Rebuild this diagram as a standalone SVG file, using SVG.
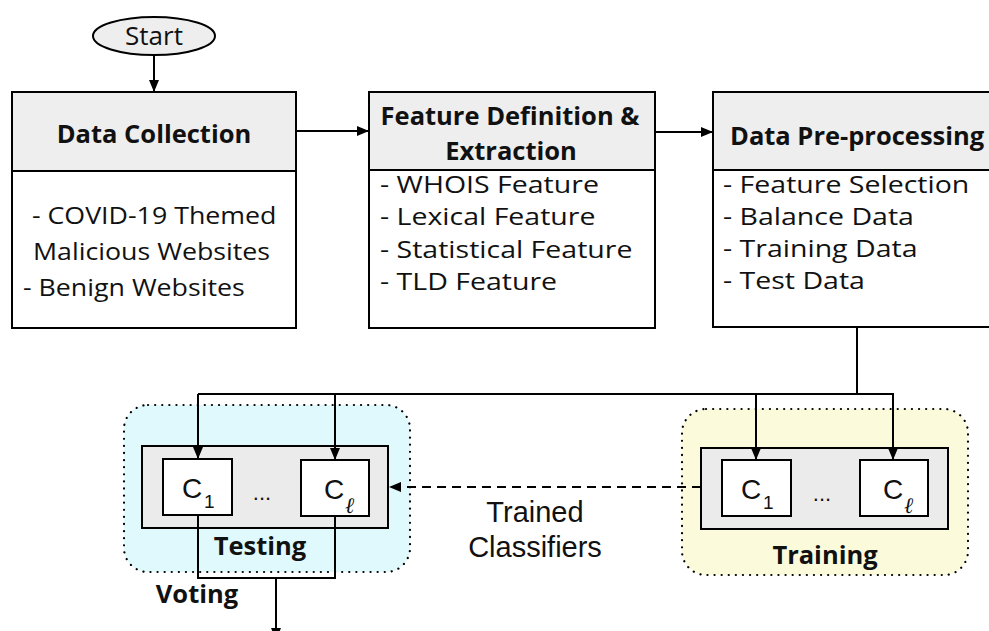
<svg xmlns="http://www.w3.org/2000/svg" width="989" height="631" viewBox="0 0 989 631">
<defs>
<marker id="ah" markerUnits="userSpaceOnUse" markerWidth="12" markerHeight="10" refX="12" refY="5" orient="auto">
<path d="M0,0 L12,5 L0,10 z" fill="#000"/>
</marker>
<style>
.box{fill:#fff;stroke:#000;stroke-width:2}
.hdr{fill:#eeeeee;stroke:#000;stroke-width:2}
.h{font-family:"Open Sans",Lato,"Liberation Sans",sans-serif;font-weight:bold;font-size:25.5px;fill:#111}
.b{font-family:"Open Sans",Lato,"Liberation Sans",sans-serif;font-size:23px;fill:#111}
.a{font-family:"Liberation Sans",Arial,sans-serif;fill:#111}
.ln{fill:none;stroke:#000;stroke-width:2}
.dot{stroke:#000;stroke-width:2.2;stroke-dasharray:0.1 7;stroke-linecap:round}
.gray{fill:#ebebeb;stroke:#000;stroke-width:2}
.cb{fill:#fff;stroke:#000;stroke-width:2}
</style>
</defs>
<rect width="989" height="631" fill="#fff"/>

<g id="start">
<ellipse cx="154" cy="36" rx="61" ry="19" fill="#eeeeee" stroke="#000" stroke-width="2"/>
<text class="b" x="154" y="45" text-anchor="middle" style="font-size:26px">Start</text>
</g>

<g id="data-collection">
<rect class="box" x="12" y="92" width="284" height="236"/>
<rect class="hdr" x="12" y="92" width="284" height="79"/>
<text class="h" x="154" y="143" text-anchor="middle">Data Collection</text>
<g transform="translate(23 0) scale(1.164 1)">
<text class="b" x="7.7" y="224">- COVID-19 Themed</text>
<text class="b" x="8.6" y="260">Malicious Websites</text>
<text class="b" x="0" y="296">- Benign Websites</text>
</g>
</g>

<g id="feature-definition">
<rect class="box" x="369" y="92" width="286" height="236"/>
<rect class="hdr" x="369" y="92" width="286" height="78"/>
<text class="h" x="510" y="125" text-anchor="middle">Feature Definition &amp;</text>
<text class="h" x="511" y="160" text-anchor="middle">Extraction</text>
<g transform="translate(380 0) scale(1.24 1)">
<text class="b" x="0" y="193">- WHOIS Feature</text>
<text class="b" x="0" y="225.5">- Lexical Feature</text>
<text class="b" x="0" y="258">- Statistical Feature</text>
<text class="b" x="0" y="290">- TLD Feature</text>
</g>
</g>

<g id="data-preprocessing">
<rect class="box" x="713" y="92" width="290" height="235"/>
<rect class="hdr" x="713" y="92" width="290" height="78"/>
<text class="h" x="730" y="145">Data Pre-processing</text>
<g transform="translate(723 0) scale(1.24 1)">
<text class="b" x="0" y="193">- Feature Selection</text>
<text class="b" x="0" y="225">- Balance Data</text>
<text class="b" x="0" y="257">- Training Data</text>
<text class="b" x="0" y="289">- Test Data</text>
</g>
</g>

<g id="testing">
<rect x="124" y="405" width="286" height="167" rx="24" fill="#e0f9fc"/>
<rect x="124" y="405" width="286" height="167" rx="24" fill="none" class="dot"/>
<rect class="gray" x="142" y="446" width="246" height="82"/>
<rect class="cb" x="163" y="459" width="69" height="56"/>
<rect class="cb" x="301" y="460" width="68" height="56"/>
<text class="a" x="182" y="498" font-size="28">C</text>
<text class="a" x="204" y="508" font-size="19">1</text>
<text class="a" x="324" y="499" font-size="28">C</text>
<text x="345" y="513" font-size="22" font-style="italic" font-family="'DejaVu Serif',serif" fill="#111">ℓ</text>
<text class="a" x="262" y="500" font-size="22" text-anchor="middle">...</text>
<text class="h" x="260" y="555" text-anchor="middle">Testing</text>
</g>

<g id="training">
<rect x="682" y="409" width="286" height="166" rx="24" fill="#fbfbdc"/>
<rect x="682" y="409" width="286" height="166" rx="24" fill="none" class="dot"/>
<rect class="gray" x="701" y="448" width="247" height="81"/>
<rect class="cb" x="722" y="460" width="69" height="56"/>
<rect class="cb" x="860" y="460" width="68" height="56"/>
<text class="a" x="741" y="499" font-size="28">C</text>
<text class="a" x="763" y="509" font-size="19">1</text>
<text class="a" x="883" y="499" font-size="28">C</text>
<text x="904" y="513" font-size="22" font-style="italic" font-family="'DejaVu Serif',serif" fill="#111">ℓ</text>
<text class="a" x="822" y="501" font-size="22" text-anchor="middle">...</text>
<text class="h" x="825" y="564" text-anchor="middle">Training</text>
</g>

<g id="labels">
<text class="a" x="535" y="522" font-size="29" text-anchor="middle">Trained</text>
<text class="a" x="535" y="557" font-size="29" text-anchor="middle">Classifiers</text>
<text class="h" x="197" y="603" text-anchor="middle">Voting</text>
</g>

<g id="connectors">
<line class="ln" x1="154" y1="55" x2="154" y2="92" marker-end="url(#ah)"/>
<line class="ln" x1="296" y1="131" x2="369" y2="131" marker-end="url(#ah)"/>
<line class="ln" x1="655" y1="132" x2="713" y2="132" marker-end="url(#ah)"/>
<polyline class="ln" points="857,327 857,394"/>
<line class="ln" x1="198" y1="394" x2="893" y2="394"/>
<line class="ln" x1="198" y1="394" x2="198" y2="459" marker-end="url(#ah)"/>
<line class="ln" x1="335" y1="394" x2="335" y2="460" marker-end="url(#ah)"/>
<line class="ln" x1="756" y1="394" x2="756" y2="460" marker-end="url(#ah)"/>
<line class="ln" x1="893" y1="393" x2="893" y2="460" marker-end="url(#ah)"/>
<line class="ln" x1="701" y1="487" x2="389" y2="487" stroke-dasharray="9 6" marker-end="url(#ah)"/>
<polyline class="ln" points="198,515 198,578 335,578 335,516"/>
<line class="ln" x1="276" y1="578" x2="276" y2="640" marker-end="url(#ah)"/>
</g>
</svg>
